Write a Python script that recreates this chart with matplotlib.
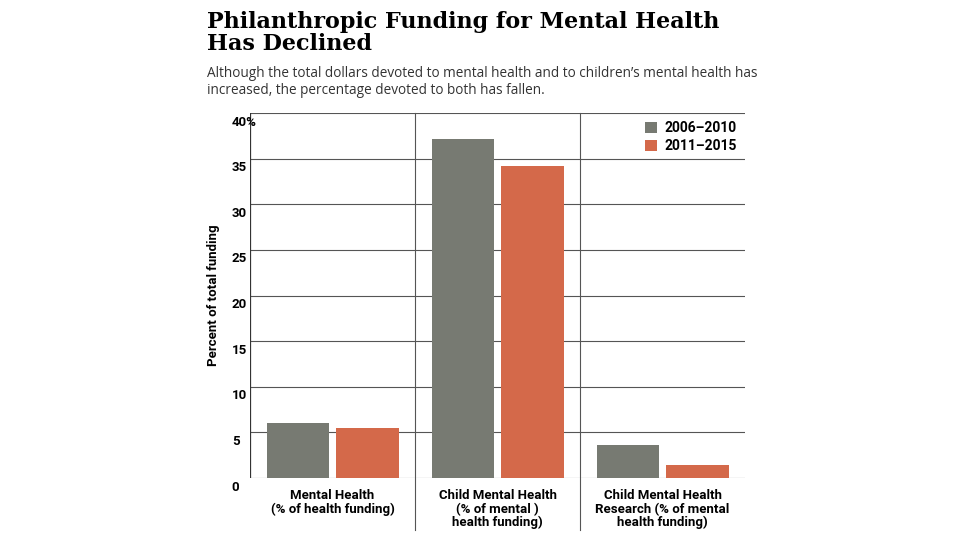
import numpy as np
import matplotlib.pyplot as plt

categories = ['Mental Health\n(% of health funding)',
              'Child Mental Health\n(% of mental )\nhealth funding)',
              'Child Mental Health\nResearch (% of mental\nhealth funding)']
series_names = ['2006\u20132010', '2011\u20132015']
vals_2006 = [6.0, 37.2, 3.6]
vals_2011 = [5.5, 34.2, 1.4]
yticks = [0, 5, 10, 15, 20, 25, 30, 35, 40]

gray = '#777a72'
orange = '#d4694a'

fig = plt.figure(figsize=(9.6, 5.4), dpi=100)
ax = fig.add_axes([250/960, 62/540, 495/960, 365/540])

x = np.arange(3) + 0.5
ax.bar(x - 0.21, vals_2006, 0.38, color=gray, label=series_names[0], zorder=3)
ax.bar(x + 0.21, vals_2011, 0.38, color=orange, label=series_names[1], zorder=3)

ax.set_xlim(0, 3)
ax.set_ylim(0, 40)
for v in yticks:
    ax.axhline(v, color='#555555', lw=0.8, zorder=1)
    lab = '40%' if v == 40 else str(v)
    ax.text(-0.11, v - 1.0, lab, ha='left', va='center', fontsize=9.5,
            fontweight='bold', family='Roboto')
for s in [1, 2]:
    ax.plot([s, s], [-5.7, 40], color='#555555', lw=0.8, clip_on=False, zorder=1)
ax.plot([0, 0], [0, 40], color='#333333', lw=0.9, zorder=2)

for xi, c in zip(x, categories):
    ax.text(xi, -1.2, c, ha='center', va='top', fontsize=9.5,
            fontweight='bold', family='Roboto', linespacing=1.05)

for sp in ax.spines.values():
    sp.set_visible(False)
ax.set_xticks([])
ax.set_yticks([])

ax.text(-0.22, 20, 'Percent of total funding', rotation=90, ha='center',
        va='center', fontsize=9.5, fontweight='bold', family='Roboto')

leg = ax.legend(loc='upper right', frameon=False, handlelength=0.9,
                handleheight=0.9, handletextpad=0.5, labelspacing=0.3,
                borderaxespad=0.2, prop={'family': 'Roboto', 'weight': 'bold', 'size': 10})

fig.text(207/960, 1 - 33/540, 'Philanthropic Funding for Mental Health\nHas Declined',
         ha='left', va='center', fontsize=16, fontweight='bold',
         family='DejaVu Serif', linespacing=1.0)
fig.text(207/960, 1 - 82/540,
         "Although the total dollars devoted to mental health and to children\u2019s mental health has\n"
         "increased, the percentage devoted to both has fallen.",
         ha='left', va='center', fontsize=9.8, color='#333333', family='Open Sans',
         linespacing=1.2)

fig.savefig('out.png', dpi=100)
